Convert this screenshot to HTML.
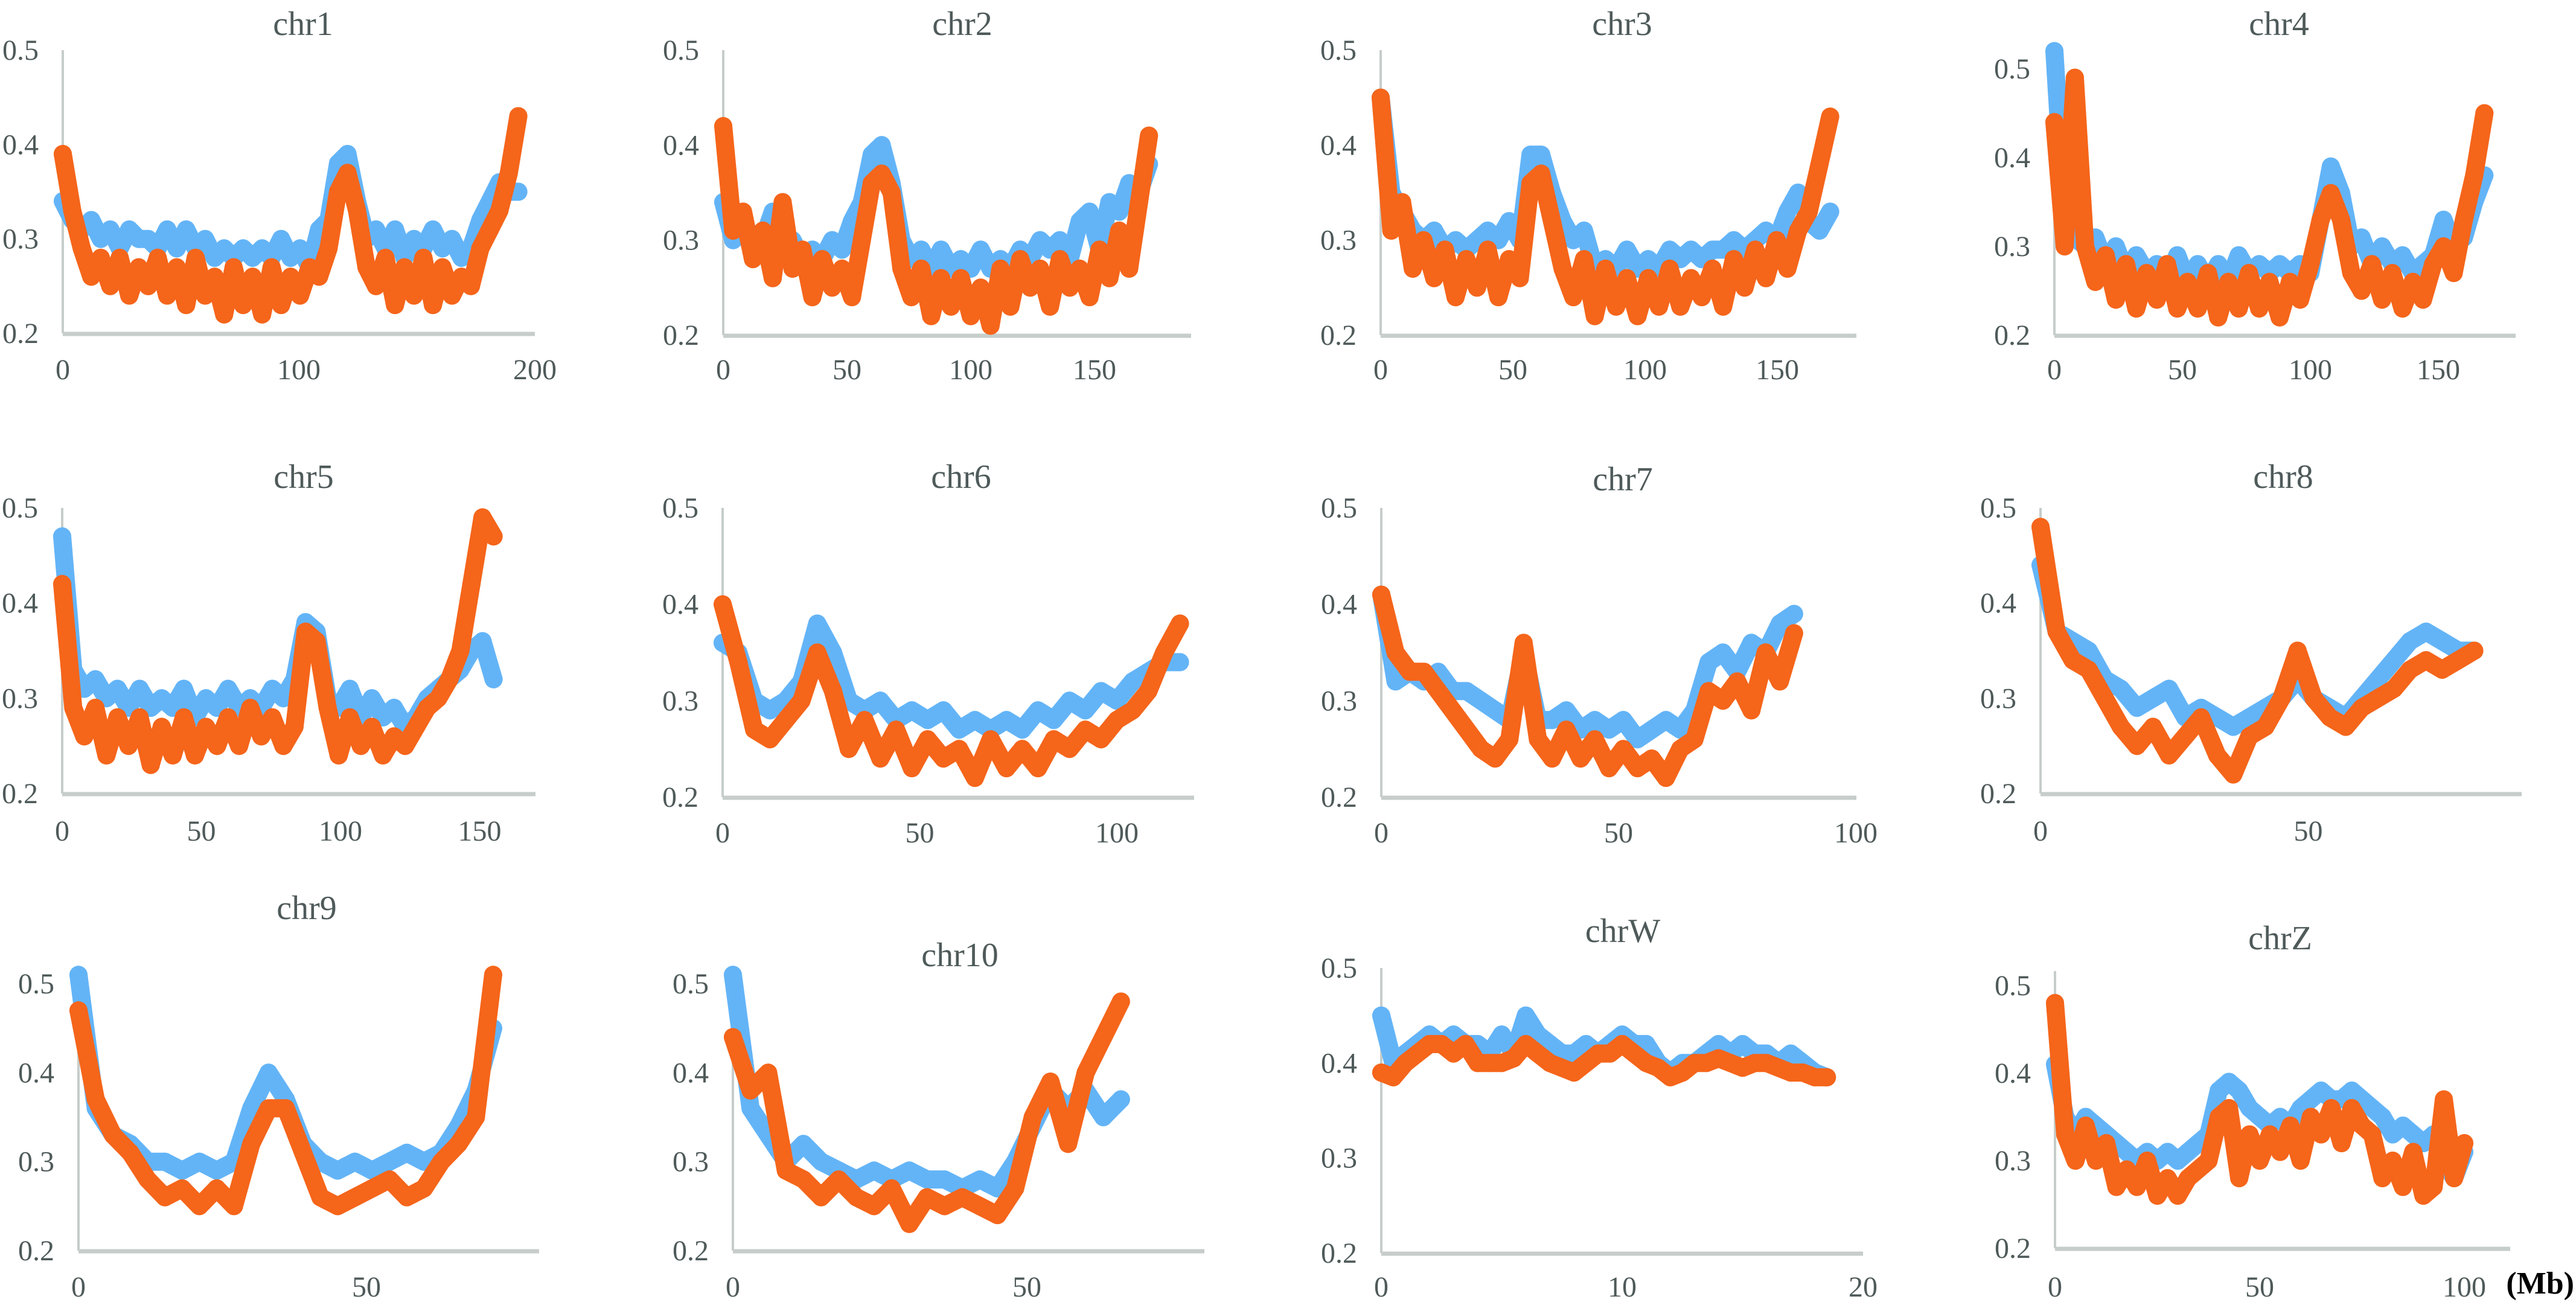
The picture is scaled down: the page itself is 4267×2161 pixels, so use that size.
<!DOCTYPE html>
<html><head><meta charset="utf-8"><style>
html,body{margin:0;padding:0;background:#fff;}
svg{display:block;}
text{font-family:"Liberation Serif",serif;fill:#4f5a5a;}
</style></head><body>
<svg id="fig" width="4267" height="2161" viewBox="0 0 4267 2161" xmlns="http://www.w3.org/2000/svg"></svg>
<script>
const chromNames=["chr1","chr2","chr3","chr4","chr5","chr6","chr7","chr8","chr9","chr10","chrW","chrZ"];
const chromLengths=[193,172,170,168,155,116,87,81,72,66,18.5,100];
const yTickLabels=["0.2","0.3","0.4","0.5"];
const yTickValues=[0.2,0.3,0.4,0.5];
const chr1Blue=[0.34,0.32,0.31,0.32,0.30,0.31,0.29,0.31,0.30,0.30,0.29,0.31,0.29,0.31,0.29,0.30,0.28,0.29,0.28,0.29,0.28,0.29,0.28,0.30,0.28,0.29,0.27,0.31,0.32,0.38,0.39,0.34,0.30,0.31,0.29,0.31,0.28,0.30,0.29,0.31,0.29,0.30,0.28,0.29,0.32,0.34,0.36,0.35,0.35];
const chr1Orange=[0.39,0.33,0.29,0.26,0.28,0.25,0.28,0.24,0.27,0.25,0.28,0.24,0.27,0.23,0.28,0.24,0.26,0.22,0.27,0.23,0.26,0.22,0.27,0.23,0.26,0.24,0.27,0.26,0.29,0.35,0.37,0.33,0.27,0.25,0.28,0.23,0.27,0.24,0.28,0.23,0.27,0.24,0.26,0.25,0.29,0.31,0.33,0.37,0.43];
const chr2Blue=[0.34,0.30,0.31,0.29,0.30,0.33,0.29,0.30,0.28,0.29,0.28,0.30,0.29,0.32,0.34,0.39,0.40,0.36,0.30,0.28,0.29,0.27,0.29,0.27,0.28,0.27,0.29,0.27,0.28,0.27,0.29,0.28,0.30,0.29,0.30,0.28,0.32,0.33,0.29,0.34,0.33,0.36,0.35,0.38];
const chr2Orange=[0.42,0.31,0.33,0.28,0.31,0.26,0.34,0.27,0.29,0.24,0.28,0.25,0.27,0.24,0.30,0.36,0.37,0.35,0.27,0.24,0.27,0.22,0.26,0.23,0.26,0.22,0.25,0.21,0.27,0.23,0.28,0.25,0.27,0.23,0.28,0.25,0.27,0.24,0.29,0.26,0.31,0.27,0.34,0.41];
const chr3Blue=[0.45,0.35,0.33,0.31,0.30,0.31,0.29,0.30,0.29,0.30,0.31,0.30,0.32,0.30,0.39,0.39,0.35,0.32,0.30,0.31,0.27,0.28,0.27,0.29,0.27,0.28,0.27,0.29,0.28,0.29,0.28,0.29,0.29,0.30,0.29,0.30,0.31,0.30,0.33,0.35,0.32,0.31,0.33];
const chr3Orange=[0.45,0.31,0.34,0.27,0.30,0.26,0.29,0.24,0.28,0.25,0.29,0.24,0.28,0.26,0.36,0.37,0.32,0.27,0.24,0.28,0.22,0.27,0.23,0.26,0.22,0.26,0.23,0.27,0.23,0.26,0.24,0.27,0.23,0.28,0.25,0.29,0.26,0.30,0.27,0.31,0.33,0.38,0.43];
const chr4Blue=[0.52,0.33,0.31,0.30,0.31,0.28,0.30,0.27,0.29,0.27,0.28,0.26,0.29,0.26,0.28,0.26,0.28,0.26,0.29,0.27,0.28,0.27,0.28,0.27,0.28,0.27,0.33,0.39,0.36,0.30,0.31,0.28,0.30,0.28,0.29,0.27,0.28,0.29,0.33,0.30,0.31,0.35,0.38];
const chr4Orange=[0.44,0.30,0.49,0.30,0.26,0.29,0.24,0.28,0.23,0.27,0.24,0.28,0.23,0.26,0.23,0.27,0.22,0.26,0.23,0.27,0.23,0.26,0.22,0.26,0.24,0.28,0.33,0.36,0.33,0.27,0.25,0.28,0.24,0.27,0.23,0.26,0.24,0.28,0.30,0.27,0.33,0.38,0.45];
const chr5Blue=[0.47,0.33,0.31,0.32,0.30,0.31,0.29,0.31,0.29,0.30,0.29,0.31,0.28,0.30,0.29,0.31,0.29,0.30,0.29,0.31,0.30,0.32,0.38,0.37,0.30,0.29,0.31,0.28,0.30,0.28,0.29,0.27,0.28,0.30,0.31,0.32,0.33,0.35,0.36,0.32];
const chr5Orange=[0.42,0.29,0.26,0.29,0.24,0.28,0.25,0.28,0.23,0.27,0.24,0.28,0.24,0.27,0.25,0.28,0.25,0.29,0.26,0.28,0.25,0.27,0.37,0.36,0.29,0.24,0.28,0.25,0.27,0.24,0.26,0.25,0.27,0.29,0.30,0.32,0.35,0.42,0.49,0.47];
const chr6Blue=[0.36,0.35,0.30,0.29,0.30,0.32,0.38,0.35,0.30,0.29,0.30,0.28,0.29,0.28,0.29,0.27,0.28,0.27,0.28,0.27,0.29,0.28,0.30,0.29,0.31,0.30,0.32,0.33,0.34,0.34];
const chr6Orange=[0.40,0.34,0.27,0.26,0.28,0.30,0.35,0.31,0.25,0.28,0.24,0.27,0.23,0.26,0.24,0.25,0.22,0.26,0.23,0.25,0.23,0.26,0.25,0.27,0.26,0.28,0.29,0.31,0.35,0.38];
const chr7Blue=[0.41,0.32,0.33,0.32,0.33,0.31,0.31,0.30,0.29,0.28,0.35,0.28,0.28,0.29,0.27,0.28,0.27,0.28,0.26,0.27,0.28,0.27,0.29,0.34,0.35,0.33,0.36,0.35,0.38,0.39];
const chr7Orange=[0.41,0.35,0.33,0.33,0.31,0.29,0.27,0.25,0.24,0.26,0.36,0.26,0.24,0.27,0.24,0.26,0.23,0.25,0.23,0.24,0.22,0.25,0.26,0.31,0.30,0.32,0.29,0.35,0.32,0.37];
const chr8Blue=[0.44,0.37,0.36,0.35,0.32,0.31,0.29,0.30,0.31,0.28,0.29,0.28,0.27,0.28,0.29,0.30,0.32,0.30,0.29,0.28,0.30,0.32,0.34,0.36,0.37,0.36,0.35,0.35];
const chr8Orange=[0.48,0.37,0.34,0.33,0.30,0.27,0.25,0.27,0.24,0.26,0.28,0.24,0.22,0.26,0.27,0.30,0.35,0.30,0.28,0.27,0.29,0.30,0.31,0.33,0.34,0.33,0.34,0.35];
const chr9Blue=[0.51,0.36,0.33,0.32,0.30,0.30,0.29,0.30,0.29,0.30,0.36,0.40,0.37,0.32,0.30,0.29,0.30,0.29,0.30,0.31,0.30,0.31,0.34,0.38,0.45];
const chr9Orange=[0.47,0.37,0.33,0.31,0.28,0.26,0.27,0.25,0.27,0.25,0.32,0.36,0.36,0.31,0.26,0.25,0.26,0.27,0.28,0.26,0.27,0.30,0.32,0.35,0.51];
const chr10Blue=[0.51,0.36,0.33,0.30,0.32,0.30,0.29,0.28,0.29,0.28,0.29,0.28,0.28,0.27,0.28,0.27,0.30,0.34,0.38,0.36,0.38,0.35,0.37];
const chr10Orange=[0.44,0.38,0.40,0.29,0.28,0.26,0.28,0.26,0.25,0.27,0.23,0.26,0.25,0.26,0.25,0.24,0.27,0.35,0.39,0.32,0.40,0.44,0.48];
const chrWBlue=[0.45,0.40,0.41,0.42,0.43,0.42,0.43,0.42,0.42,0.41,0.43,0.41,0.45,0.43,0.42,0.41,0.41,0.42,0.41,0.42,0.43,0.42,0.42,0.40,0.39,0.40,0.40,0.41,0.42,0.41,0.42,0.41,0.41,0.40,0.41,0.40,0.39,0.385];
const chrWOrange=[0.39,0.385,0.40,0.41,0.42,0.42,0.41,0.42,0.40,0.40,0.40,0.405,0.42,0.41,0.40,0.395,0.39,0.40,0.41,0.41,0.42,0.41,0.40,0.395,0.385,0.39,0.40,0.40,0.405,0.40,0.395,0.40,0.40,0.395,0.39,0.39,0.385,0.385];
const chrZBlue=[0.41,0.35,0.33,0.35,0.34,0.33,0.32,0.31,0.30,0.31,0.30,0.31,0.30,0.31,0.32,0.33,0.38,0.39,0.38,0.36,0.35,0.34,0.35,0.34,0.36,0.37,0.38,0.37,0.37,0.38,0.37,0.36,0.35,0.33,0.34,0.33,0.32,0.33,0.30,0.28,0.31];
const chrZOrange=[0.48,0.33,0.30,0.34,0.30,0.32,0.27,0.29,0.27,0.30,0.26,0.28,0.26,0.28,0.29,0.30,0.35,0.36,0.28,0.33,0.30,0.33,0.31,0.34,0.30,0.35,0.33,0.36,0.32,0.36,0.34,0.33,0.28,0.30,0.27,0.31,0.26,0.27,0.37,0.28,0.32];
const xTickSets=[[0,100,200],[0,50,100,150],[0,50,100,150],[0,50,100,150],[0,50,100,150],[0,50,100],[0,50,100],[0,50],[0,50],[0,50],[0,10,20],[0,50,100]];
const blueSeries=[chr1Blue,chr2Blue,chr3Blue,chr4Blue,chr5Blue,chr6Blue,chr7Blue,chr8Blue,chr9Blue,chr10Blue,chrWBlue,chrZBlue];
const orangeSeries=[chr1Orange,chr2Orange,chr3Orange,chr4Orange,chr5Orange,chr6Orange,chr7Orange,chr8Orange,chr9Orange,chr10Orange,chrWOrange,chrZOrange];

const layout=[
 [104,886,3.91,83,552,83,502,58,628],
 [1198,1973,4.10,83,555,83,1594,58,628],
 [2287,3075,4.38,83,555,83,2687,58,628],
 [3403,4167,4.24,114,555,92,3775,58,628],
 [103,887,4.61,841,1314,841,503,808,1392],
 [1197,1978,6.53,841,1320,841,1592,808,1395],
 [2288,3075,7.86,841,1320,841,2688,812,1395],
 [3380,4177,8.87,841,1314,841,3782,808,1392],
 [130,893,9.54,1629,2071,1606,508,1522,2147],
 [1214,1995,9.74,1629,2071,1606,1590,1600,2147],
 [2288,3086,39.9,1603,2075,1603,2688,1560,2147],
 [3404,4158,6.78,1632,2067,1608,3777,1572,2147]
];
const NS="http://www.w3.org/2000/svg";
const svg=document.getElementById('fig');
function mk(tag,attrs,parent){const e=document.createElementNS(NS,tag);for(const k in attrs)e.setAttribute(k,attrs[k]);(parent||svg).appendChild(e);return e;}
const BLUE="#63b4f7", ORANGE="#f5651a", AXIS="#c6cdca";
chromNames.forEach((name,ci)=>{
  const [x0,xe,ppm,y05,y02,yTop,tx,ty,xly]=layout[ci];
  const g=mk('g',{});
  
  
  const xs=v=>x0+v*ppm;
  const ys=v=>y02-(v-0.2)/0.3*(y02-y05);
  const t=mk('text',{x:tx,y:ty,'text-anchor':'middle','font-size':56},g);
  t.textContent=name;
  
  
  const ya=mk('line',{x1:x0,y1:yTop,x2:x0,y2:y02,stroke:AXIS,'stroke-width':4},g);
  
  
  const xa=mk('line',{x1:x0,y1:y02+1,x2:xe,y2:y02+1,stroke:AXIS,'stroke-width':7},g);
  
  
  yTickValues.forEach((v,i)=>{
    const l=mk('text',{x:x0-40,y:ys(v)+16,'text-anchor':'end','font-size':48},g);
    l.textContent=yTickLabels[i];
    
    
  });
  xTickSets[ci].forEach(v=>{
    const l=mk('text',{x:xs(v),y:xly,'text-anchor':'middle','font-size':48},g);
    l.textContent=String(v);
    
    
  });
  [[blueSeries[ci],BLUE,'blue'],[orangeSeries[ci],ORANGE,'orange']].forEach(([vals,col,key])=>{
    const L=chromLengths[ci], n=vals.length;
    const pts=vals.map((v,i)=>[xs(i*L/(n-1)),ys(v)]);
    const sg=mk('g',{},g);
    
    
    const pl=mk('polyline',{points:pts.map(p=>p[0].toFixed(1)+','+p[1].toFixed(1)).join(' '),fill:'none',stroke:col,'stroke-width':30,'stroke-linejoin':'round','stroke-linecap':'round'},sg);
    
    
    pts.forEach(p=>{
      const c=mk('circle',{cx:p[0].toFixed(1),cy:p[1].toFixed(1),r:15,fill:col},sg);
      
      
    });
  });
});
const mb=mk('text',{x:4264,y:2142,'text-anchor':'end','font-size':52,'font-weight':'bold'});
mb.setAttribute('style','fill:#000');
mb.textContent='(Mb)';


</script>
</body></html>
